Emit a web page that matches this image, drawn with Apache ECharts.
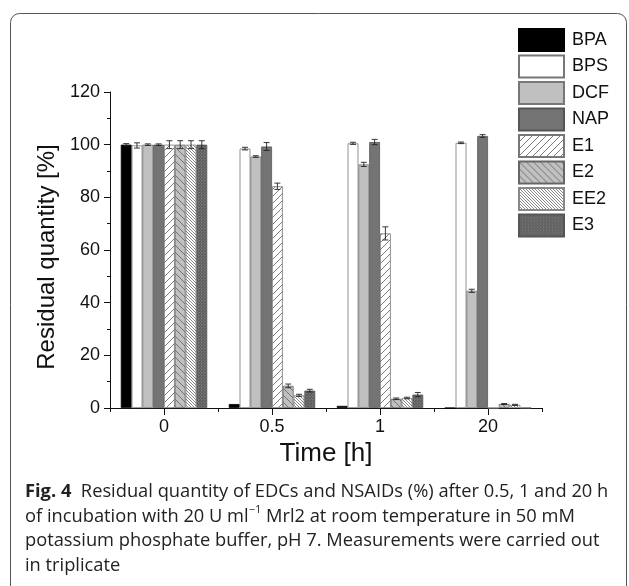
<!DOCTYPE html>
<html>
<head>
<meta charset="utf-8">
<script src="https://cdn.jsdelivr.net/npm/echarts@6/dist/echarts.min.js"></script>
<style>
html,body{margin:0;padding:0;background:#fff;}
#c{width:629px;height:586px;}
</style>
</head>
<body>
<div id="c"></div>
<script>
// ---- data ----
const categories = ['0', '0.5', '1', '20'];
const seriesNames = ['BPA', 'BPS', 'DCF', 'NAP', 'E1', 'E2', 'EE2', 'E3'];
const BPA = [100, 1.5, 0.8, 0];
const BPS = [99.7, 98.5, 100.5, 100.7];
const DCF = [100, 95.5, 92.5, 44.5];
const NAP = [100, 99.3, 101, 103.3];
const E1 = [100, 84.2, 66.3, 0];
const E2 = [100, 8.4, 3.5, 1.5];
const EE2 = [100, 4.8, 3.8, 1.2];
const E3 = [100, 6.6, 5.1, 0];
const BPA_err = [0.4, 0, 0, 0];
const BPS_err = [1, 0.5, 0.4, 0.3];
const DCF_err = [0.3, 0.3, 0.8, 0.6];
const NAP_err = [0.3, 1.5, 1, 0.5];
const E1_err = [1.5, 1.2, 2.5, 0];
const E2_err = [1.5, 0.7, 0.3, 0.2];
const EE2_err = [1.5, 0.4, 0.3, 0.2];
const E3_err = [1.5, 0.5, 0.8, 0];
const yTicks = [0, 20, 40, 60, 80, 100, 120];

const values = [BPA, BPS, DCF, NAP, E1, E2, EE2, E3];
const errors = [BPA_err, BPS_err, DCF_err, NAP_err, E1_err, E2_err, EE2_err, E3_err];

function hatch(bg, fg, s, dir, lw) {
  const c = document.createElement('canvas');
  c.width = s; c.height = s;
  const ctx = c.getContext('2d');
  ctx.fillStyle = bg; ctx.fillRect(0, 0, s, s);
  ctx.strokeStyle = fg; ctx.lineWidth = lw;
  ctx.beginPath();
  for (const k of [-s, 0, s]) {
    if (dir === '/') { ctx.moveTo(k, s); ctx.lineTo(k + s, 0); }
    else { ctx.moveTo(k, 0); ctx.lineTo(k + s, s); }
  }
  ctx.stroke();
  return { image: c, repeat: 'repeat' };
}

const fills = [
  '#000000',
  '#ffffff',
  '#c0c0c0',
  '#747474',
  hatch('#ffffff', '#444444', 7, '/', 0.7),
  hatch('#c0c0c0', '#555555', 7, '\\', 0.7),
  hatch('#ffffff', '#555555', 3.5, '\\', 0.7),
  hatch('#747474', '#333333', 3.5, '/', 0.7)
];
const borders = ['#000', '#777', '#777', '#555', '#777', '#666', '#888', '#555'];

const N = seriesNames.length;
const series = [];
seriesNames.forEach((name, i) => {
  series.push({
    name: name, type: 'bar', data: values[i],
    barGap: '0%', barCategoryGap: '20%',
    itemStyle: { color: fills[i], borderColor: borders[i], borderWidth: 0.8 },
    emphasis: { disabled: true },
    animation: false
  });
});
seriesNames.forEach((name, i) => {
  series.push({
    type: 'custom', name: name + '_err',
    data: values[i].map((v, j) => [j, v, errors[i][j]]),
    z: 5, animation: false,
    renderItem: function (params, api) {
      const cat = api.value(0), v = api.value(1), e = api.value(2);
      if (!e) return null;
      const band = api.size([1, 0])[0];
      const bw = band * 0.8 / N;
      const xc = api.coord([cat, v])[0] + (i - (N - 1) / 2) * bw;
      const top = api.coord([cat, v + e])[1];
      const bot = api.coord([cat, Math.max(v - e, 0)])[1];
      const hw = 3;
      const st = { stroke: '#222', lineWidth: 0.9 };
      return { type: 'group', children: [
        { type: 'line', shape: { x1: xc, y1: top, x2: xc, y2: bot }, style: st },
        { type: 'line', shape: { x1: xc - hw, y1: top, x2: xc + hw, y2: top }, style: st },
        { type: 'line', shape: { x1: xc - hw, y1: bot, x2: xc + hw, y2: bot }, style: st }
      ]};
    }
  });
});

const chart = echarts.init(document.getElementById('c'), null, { renderer: 'canvas' });
const axisFont = 'Liberation Sans';
const capFont = 'Open Sans';
const capSize = 18.3;
const capLH = 24.5;
chart.setOption({
  animation: false,
  backgroundColor: '#fff',
  grid: { left: 110, right: 87, top: 92, bottom: 178, containLabel: false },
  legend: {
    data: seriesNames, orient: 'vertical', left: 518, top: 28,
    itemWidth: 45, itemHeight: 22, itemGap: 2.5, padding: 0,
    icon: 'rect', selectedMode: false,
    textStyle: { fontFamily: axisFont, fontSize: 18, color: '#111', padding: [0, 0, 0, 3] }
  },
  xAxis: [{
    type: 'category', data: categories,
    axisLine: { lineStyle: { color: '#111', width: 1 } },
    axisTick: { show: true, length: 4, inside: false, lineStyle: { color: '#111' } },
    axisLabel: { fontFamily: axisFont, fontSize: 18, color: '#111', margin: 10 },
    name: 'Time [h]', nameLocation: 'middle', nameGap: 33,
    nameTextStyle: { fontFamily: axisFont, fontSize: 26, color: '#111' }
  }, {
    type: 'category', data: categories, position: 'bottom',
    axisLine: { show: false },
    axisTick: { show: true, alignWithLabel: true, length: 7, lineStyle: { color: '#111' } },
    axisLabel: { show: false }
  }],
  yAxis: {
    type: 'value', min: 0, max: 120, interval: 20,
    axisLine: { show: true, lineStyle: { color: '#111', width: 1 } },
    axisTick: { show: true, length: 6, lineStyle: { color: '#111' } },
    minorTick: { show: true, splitNumber: 2, length: 3, lineStyle: { color: '#111' } },
    splitLine: { show: false },
    axisLabel: { fontFamily: axisFont, fontSize: 18, color: '#111', margin: 10,
      formatter: v => yTicks.includes(v) ? String(v) : '' },
    name: 'Residual quantity [%]', nameLocation: 'middle', nameRotate: 90, nameGap: 50,
    nameTextStyle: { fontFamily: axisFont, fontSize: 24, color: '#111', padding: [0, 14, 0, 0] }
  },
  series: series,
  graphic: [
    { type: 'rect', silent: true, shape: { x: 10.5, y: 13.5, width: 616, height: 620, r: 9 },
      style: { fill: 'none', stroke: '#555', lineWidth: 1 } },
    { type: 'text', left: 25, top: 480, silent: true,
      style: {
        text: '{b|Fig. 4}  {t|Residual quantity of EDCs and NSAIDs (%) after 0.5, 1 and 20 h}\n' +
              '{t|of incubation with 20 U ml}{s|\u22121}{t| Mrl2 at room temperature in 50 mM}\n' +
              '{t|potassium phosphate buffer, pH 7. Measurements were carried out}\n' +
              '{t|in triplicate}',
        fontFamily: capFont, fontSize: capSize, lineHeight: capLH, fill: '#222',
        rich: {
          b: { fontFamily: capFont, fontWeight: 'bold', fontSize: capSize, fill: '#222', lineHeight: capLH },
          t: { fontFamily: capFont, fontSize: capSize, fill: '#222', lineHeight: capLH },
          s: { fontFamily: capFont, fontSize: 11, fill: '#222', lineHeight: capLH, verticalAlign: 'top', padding: [0, 0, 11, 0] }
        }
      } }
  ]
});
</script>
</body>
</html>
